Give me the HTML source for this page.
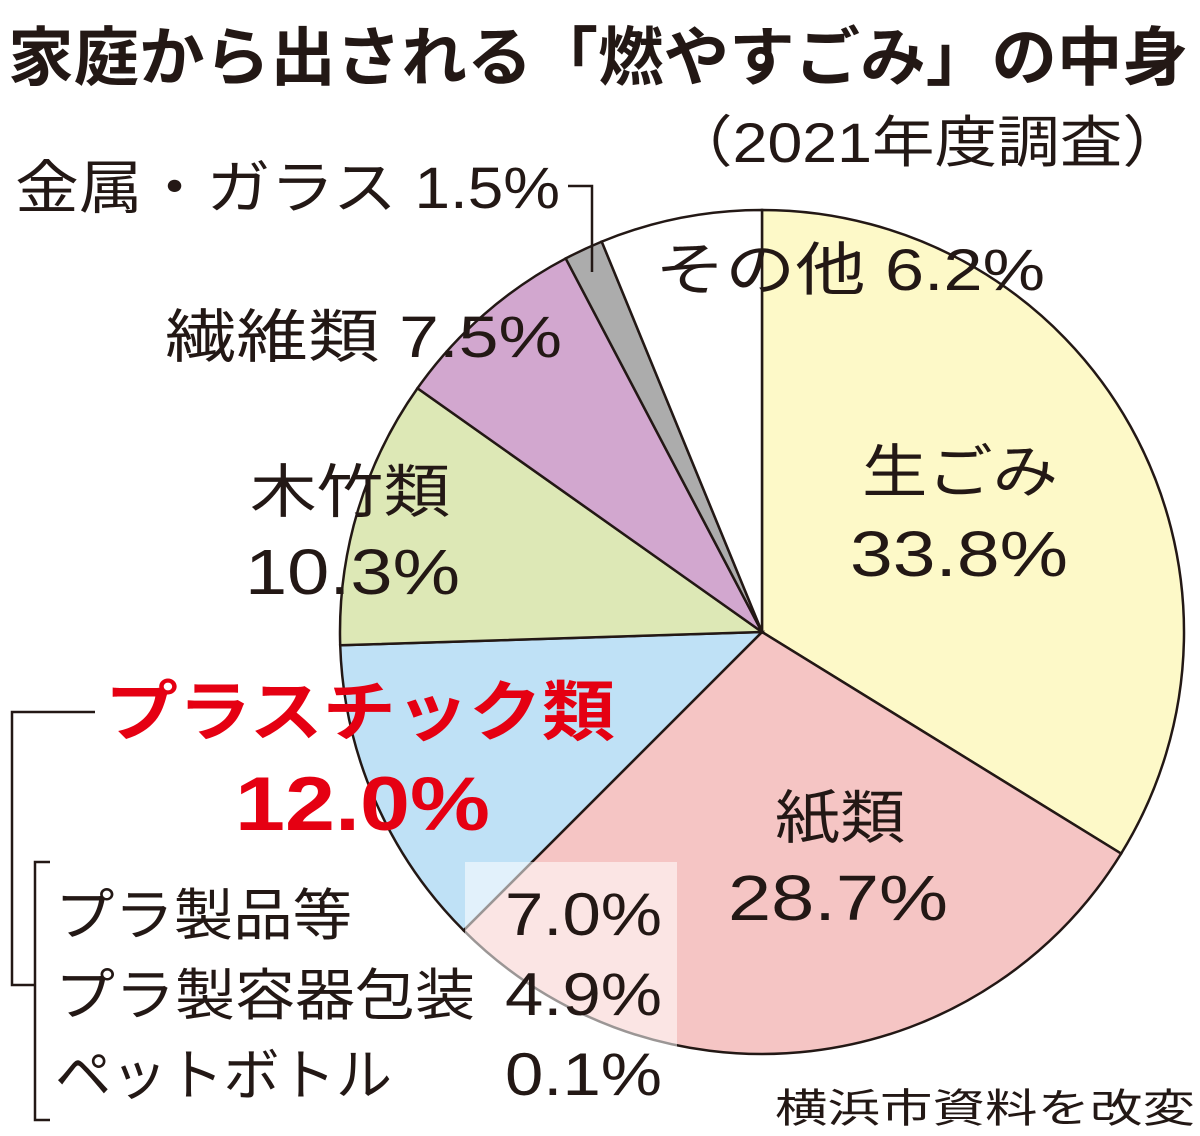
<!DOCTYPE html>
<html><head><meta charset="utf-8"><style>
html,body{margin:0;padding:0;background:#fff;}
svg{display:block;}
text{font-family:"Liberation Sans","Noto Sans CJK JP",sans-serif;fill:#231815;}
</style></head><body>
<svg id="chart" width="1200" height="1136" viewBox="0 0 1200 1136" xmlns="http://www.w3.org/2000/svg">
<text x="8" y="80" font-size="64" font-weight="bold" textLength="1180" lengthAdjust="spacingAndGlyphs">家庭から出される「燃やすごみ」の中身</text>
<text x="670" y="162" font-size="56" textLength="515" lengthAdjust="spacingAndGlyphs">（2021年度調査）</text>
<g id="slices"></g>
<rect x="465" y="862" width="212" height="250" fill="#fff" opacity="0.55"/>
<g id="labels" font-size="58">
<text x="655" y="290" textLength="390" lengthAdjust="spacingAndGlyphs">その他 6.2%</text>
<text x="15" y="208" textLength="545" lengthAdjust="spacingAndGlyphs">金属・ガラス 1.5%</text>
<text x="165" y="357" textLength="397" lengthAdjust="spacingAndGlyphs">繊維類 7.5%</text>
<text x="862" y="492" textLength="196" lengthAdjust="spacingAndGlyphs">生ごみ</text>
<text x="850" y="576" font-size="64" textLength="218" lengthAdjust="spacingAndGlyphs">33.8%</text>
<text x="250" y="512" textLength="200" lengthAdjust="spacingAndGlyphs">木竹類</text>
<text x="245" y="594" font-size="64" textLength="215" lengthAdjust="spacingAndGlyphs">10.3%</text>
<text x="775" y="838" textLength="130" lengthAdjust="spacingAndGlyphs">紙類</text>
<text x="728" y="920" font-size="64" textLength="220" lengthAdjust="spacingAndGlyphs">28.7%</text>
<text x="105" y="735" font-size="66" font-weight="bold" style="fill:#e50012" textLength="510" lengthAdjust="spacingAndGlyphs">プラスチック類</text>
<text x="235" y="830" font-size="76" font-weight="bold" style="fill:#e50012" textLength="255" lengthAdjust="spacingAndGlyphs">12.0%</text>
<text x="55" y="935" font-size="56" textLength="297" lengthAdjust="spacingAndGlyphs">プラ製品等</text>
<text x="505" y="935" font-size="60" textLength="157" lengthAdjust="spacingAndGlyphs">7.0%</text>
<text x="55" y="1015" font-size="56" textLength="420" lengthAdjust="spacingAndGlyphs">プラ製容器包装</text>
<text x="505" y="1015" font-size="60" textLength="157" lengthAdjust="spacingAndGlyphs">4.9%</text>
<text x="55" y="1095" font-size="56" textLength="337" lengthAdjust="spacingAndGlyphs">ペットボトル</text>
<text x="505" y="1095" font-size="60" textLength="157" lengthAdjust="spacingAndGlyphs">0.1%</text>
<text x="775" y="1122" font-size="40" textLength="420" lengthAdjust="spacingAndGlyphs">横浜市資料を改変</text>
</g>
<g fill="none" stroke="#231815" stroke-width="2.5">
<polyline points="568,186 592,186 592,272"/>
<polyline points="95,712 12,712 12,985 35,985"/>
<polyline points="50,862 35,862 35,1120 50,1120"/>
</g>
</svg>
<script>
const categories = ["生ごみ","紙類","プラスチック類","木竹類","繊維類","金属・ガラス","その他"];
const values = [33.8, 28.7, 12.0, 10.3, 7.5, 1.5, 6.2];
const colors = ["#fdf9c8","#f5c5c4","#bfe1f6","#dde8b6","#d2a7cf","#acacac","#ffffff"];
const names = ["slice-food","slice-paper","slice-plastic","slice-wood","slice-textile","slice-metal-glass","slice-other"];
const cx = 762, cy = 632, r = 422;
const total = values.reduce((a,b)=>a+b,0);
function pt(f){const a=f*2*Math.PI-Math.PI/2;return [cx+r*Math.cos(a),cy+r*Math.sin(a)];}
const g = document.getElementById('slices');
let acc = 0;
values.forEach((v,i)=>{
  const f0=acc/total, f1=(acc+v)/total; acc+=v;
  const p0=pt(f0), p1=pt(f1);
  const large=(f1-f0)>0.5?1:0;
  const p=document.createElementNS('http://www.w3.org/2000/svg','path');
  p.setAttribute('d',`M${cx},${cy} L${p0[0]},${p0[1]} A${r},${r} 0 ${large} 1 ${p1[0]},${p1[1]} Z`);
  p.setAttribute('fill',colors[i]);
  p.setAttribute('stroke','#231815');
  p.setAttribute('stroke-width','2.5');
  
  
  g.appendChild(p);
});
</script>
</body></html>
